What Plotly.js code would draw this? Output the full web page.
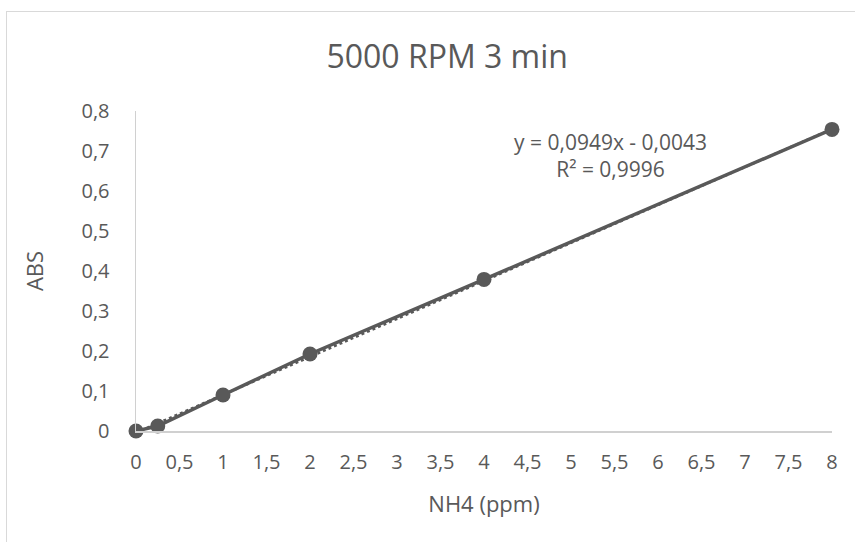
<!DOCTYPE html>
<html>
<head>
<meta charset="utf-8">
<script src="https://cdn.plot.ly/plotly-3.0.1.min.js"></script>
<style>
html,body{margin:0;padding:0;background:#fff;overflow:hidden;}
#chart{position:absolute;left:0;top:0;width:855px;height:542px;}
#frame{position:absolute;left:6px;top:11px;width:900px;height:600px;border-left:1px solid #d9d9d9;border-top:1px solid #d9d9d9;pointer-events:none;}
</style>
</head>
<body>
<div id="chart"></div>
<div id="frame"></div>
<script>
const concentration = [0, 0.25, 1, 2, 4, 8];
const absorbance = [0, 0.0125, 0.09, 0.1925, 0.379, 0.754];
const slope = 0.0949;
const intercept = -0.0043;
const trendX = [0, 8];
const trendY = trendX.map(x => slope * x + intercept);
const titleText = '5000 RPM 3 min';
const xTitle = 'NH4 (ppm)';
const yTitle = 'ABS';
const equationText = 'y = 0,0949x - 0,0043<br>R² = 0,9996';

const col = '#595959';
const font = "'Open Sans', sans-serif";

const traces = [
  {x: trendX, y: trendY, mode: 'lines', type: 'scatter', cliponaxis: false,
   line: {color: col, width: 2.5, dash: 'dot'}, hoverinfo: 'skip'},
  {x: concentration, y: absorbance, mode: 'lines+markers', type: 'scatter', cliponaxis: false,
   line: {color: col, width: 3.5}, marker: {color: col, size: 15}}
];

const layout = {
  width: 855, height: 542,
  margin: {l: 136, r: 23, t: 111, b: 111, pad: 0},
  paper_bgcolor: '#ffffff', plot_bgcolor: '#ffffff',
  separators: ',.',
  showlegend: false,
  font: {family: font, color: col, size: 20},
  title: {text: titleText, font: {family: font, size: 32, color: col}, x: 0.523, xanchor: 'center', y: 0.895, yanchor: 'middle'},
  xaxis: {
    range: [0, 8], dtick: 0.5, tick0: 0, showgrid: false, zeroline: false,
    showline: true, linecolor: '#d0d0d0', linewidth: 1.5, ticks: '',
    ticklabelstandoff: 12, tickfont: {size: 20, color: col},
    title: {text: xTitle, font: {size: 22, color: col}, standoff: 23}
  },
  yaxis: {
    range: [0, 0.8], dtick: 0.1, tick0: 0, showgrid: false, zeroline: false,
    showline: true, linecolor: '#d0d0d0', linewidth: 1.5, ticks: '',
    ticklabelstandoff: 21, tickfont: {size: 20, color: col},
    title: {text: yTitle, font: {size: 22, color: col}, standoff: 32}
  },
  annotations: [{
    x: 5.45, y: 0.762, xref: 'x', yref: 'y', text: equationText, showarrow: false,
    font: {size: 21, color: col}, align: 'center', xanchor: 'center', yanchor: 'top'
  }]
};

Plotly.newPlot('chart', traces, layout, {displayModeBar: false, staticPlot: true});
</script>
</body>
</html>
